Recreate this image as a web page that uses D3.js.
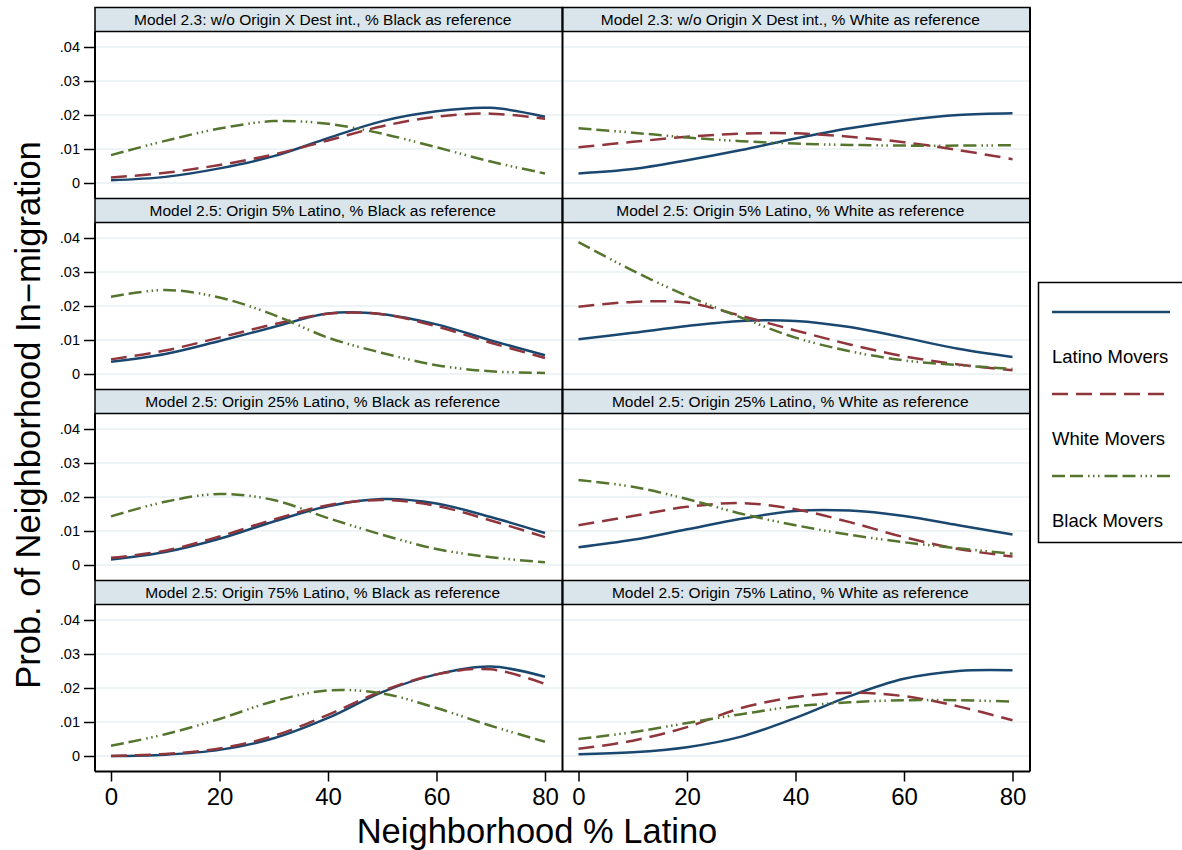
<!DOCTYPE html>
<html>
<head>
<meta charset="utf-8">
<script src="https://cdn.jsdelivr.net/npm/d3@7"></script>
<style>
  body { margin: 0; background: #fff; }
  svg { display: block; font-family: "Liberation Sans", Arial, Helvetica, sans-serif; }
</style>
</head>
<body>
<svg id="chart" width="1182" height="850"></svg>
<script>
// x grid (Neighborhood % Latino)
const xValues = [0, 10, 20, 30, 40, 50, 60, 70, 80];
const yTicks = [0, 0.01, 0.02, 0.03, 0.04];
const yTickLabels = ['0', '.01', '.02', '.03', '.04'];
const xTicks = [0, 20, 40, 60, 80];

// panels are row by row, left (Black ref) then right (White ref)
const panelTitles = [
    'Model 2.3: w/o Origin X Dest int., % Black as reference',
    'Model 2.3: w/o Origin X Dest int., % White as reference',
    'Model 2.5: Origin 5% Latino, % Black as reference',
    'Model 2.5: Origin 5% Latino, % White as reference',
    'Model 2.5: Origin 25% Latino, % Black as reference',
    'Model 2.5: Origin 25% Latino, % White as reference',
    'Model 2.5: Origin 75% Latino, % Black as reference',
    'Model 2.5: Origin 75% Latino, % White as reference'
];

const latinoMovers = [
    [0.0008, 0.0018, 0.0043, 0.0079, 0.0132, 0.0182, 0.0211, 0.0221, 0.0195],
    [0.0028, 0.0041, 0.0067, 0.0097, 0.0131, 0.0161, 0.0184, 0.0200, 0.0205],
    [0.0036, 0.0059, 0.0097, 0.0138, 0.0178, 0.0176, 0.0146, 0.0099, 0.0055],
    [0.0102, 0.0121, 0.0141, 0.0156, 0.0156, 0.0138, 0.0107, 0.0074, 0.0050],
    [0.0016, 0.0038, 0.0077, 0.0128, 0.0173, 0.0194, 0.0181, 0.0141, 0.0094],
    [0.0052, 0.0074, 0.0105, 0.0136, 0.0159, 0.0160, 0.0144, 0.0117, 0.0090],
    [0.0000, 0.0004, 0.0018, 0.0052, 0.0112, 0.0188, 0.0240, 0.0263, 0.0233],
    [0.0005, 0.0011, 0.0026, 0.0057, 0.0112, 0.0176, 0.0227, 0.0250, 0.0252]
];

const whiteMovers = [
    [0.0016, 0.0030, 0.0053, 0.0084, 0.0125, 0.0167, 0.0195, 0.0204, 0.0189],
    [0.0105, 0.0121, 0.0136, 0.0145, 0.0146, 0.0136, 0.0120, 0.0097, 0.0070],
    [0.0043, 0.0069, 0.0107, 0.0146, 0.0177, 0.0176, 0.0140, 0.0092, 0.0047],
    [0.0198, 0.0212, 0.0210, 0.0171, 0.0128, 0.0087, 0.0052, 0.0028, 0.0011],
    [0.0021, 0.0042, 0.0084, 0.0134, 0.0176, 0.0191, 0.0174, 0.0131, 0.0082],
    [0.0117, 0.0144, 0.0171, 0.0182, 0.0164, 0.0126, 0.0082, 0.0047, 0.0025],
    [0.0000, 0.0006, 0.0022, 0.0059, 0.0121, 0.0191, 0.0240, 0.0255, 0.0212],
    [0.0021, 0.0045, 0.0085, 0.0141, 0.0173, 0.0186, 0.0176, 0.0146, 0.0105]
];

const blackMovers = [
    [0.0082, 0.0124, 0.0160, 0.0182, 0.0174, 0.0145, 0.0105, 0.0063, 0.0028],
    [0.0161, 0.0148, 0.0134, 0.0123, 0.0116, 0.0112, 0.0110, 0.0110, 0.0111],
    [0.0227, 0.0247, 0.0225, 0.0174, 0.0107, 0.0062, 0.0026, 0.0008, 0.0003],
    [0.0388, 0.0304, 0.0230, 0.0166, 0.0107, 0.0067, 0.0040, 0.0026, 0.0015],
    [0.0143, 0.0186, 0.0209, 0.0191, 0.0138, 0.0089, 0.0047, 0.0023, 0.0008],
    [0.0250, 0.0230, 0.0194, 0.0151, 0.0117, 0.0089, 0.0067, 0.0049, 0.0033],
    [0.0030, 0.0064, 0.0109, 0.0161, 0.0193, 0.0184, 0.0141, 0.0089, 0.0042],
    [0.0050, 0.0070, 0.0097, 0.0123, 0.0146, 0.0158, 0.0164, 0.0164, 0.0160]
];

const seriesNames = ['Latino Movers', 'White Movers', 'Black Movers'];

(function() {
    'use strict';
    const svg = d3.select('#chart');

    const series = [
        { name: seriesNames[0], values: latinoMovers, color: '#1a476f', dash: null },
        { name: seriesNames[1], values: whiteMovers, color: '#90353b', dash: '16,8' },
        { name: seriesNames[2], values: blackMovers, color: '#55752f', dash: '13,5,13,5,1.5,3.5,1.5,3.5,1.5,5' }
    ];

    const gridLeft = 95, colWidth = 467.5;
    const gridTop = 7.5, rowHeight = 191, headerHeight = 24;
    const nRows = 4;

    const line = d3.line().curve(d3.curveCatmullRom.alpha(0.5));

    panelTitles.forEach((title, i) => {
        const row = Math.floor(i / 2), col = i % 2;
        const left = gridLeft + col * colWidth;
        const top = gridTop + row * rowHeight;
        const plotTop = top + headerHeight;
        const plotBottom = top + rowHeight;

        const x = d3.scaleLinear().domain([0, 80]).range([left + 16, left + 450]);
        const y = d3.scaleLinear().domain([0, 0.04]).range([plotTop + 151.5, plotTop + 15.5]);

        const g = svg.append('g');

        // header strip
        g.append('rect')
            .attr('x', left).attr('y', top)
            .attr('width', colWidth).attr('height', headerHeight)
            .attr('fill', '#d9e5eb')
            .attr('stroke', '#000').attr('stroke-width', 1.5);
        g.append('text')
            .attr('x', left + colWidth / 2 - 6)
            .attr('y', top + headerHeight / 2)
            .attr('dy', '0.36em')
            .attr('text-anchor', 'middle')
            .style('font-size', '15.5px')
            .text(title);

        // gridlines
        g.append('g').selectAll('line')
            .data(yTicks)
            .enter().append('line')
            .attr('x1', left).attr('x2', left + colWidth)
            .attr('y1', d => y(d)).attr('y2', d => y(d))
            .attr('stroke', '#e8f0f2').attr('stroke-width', 1.5);

        // curves
        series.forEach(s => {
            const pts = xValues.map((xv, k) => [x(xv), y(s.values[i][k])]);
            g.append('path')
                .attr('d', line(pts))
                .attr('fill', 'none')
                .attr('stroke', s.color)
                .attr('stroke-width', 2.5)
                .attr('stroke-dasharray', s.dash);
        });

        // y axis on the left column only
        if (col === 0) {
            const yAxis = d3.axisLeft(y).tickValues(yTicks)
                .tickFormat((d, k) => yTickLabels[k]).tickSize(11).tickPadding(4);
            const ax = g.append('g').attr('transform', `translate(${left},0)`).call(yAxis);
            ax.select('.domain').remove();
            ax.selectAll('.tick line').attr('stroke', '#000').attr('stroke-width', 1.5);
            ax.selectAll('.tick text').style('font-size', '14.5px').attr('fill', '#000')
                .style('font-family', '"Liberation Sans", Arial, sans-serif');
            g.append('line')
                .attr('x1', left).attr('x2', left)
                .attr('y1', plotTop).attr('y2', plotBottom)
                .attr('stroke', '#000').attr('stroke-width', 2);
        }

        // x axis on the bottom row
        if (row === nRows - 1) {
            const xAxis = d3.axisBottom(x).tickValues(xTicks).tickSize(10).tickPadding(6);
            const ax = g.append('g').attr('transform', `translate(0,${plotBottom})`).call(xAxis);
            ax.select('.domain').remove();
            ax.selectAll('.tick line').attr('stroke', '#000').attr('stroke-width', 1.5);
            ax.selectAll('.tick text').style('font-size', '24px').attr('fill', '#000')
                .style('font-family', '"Liberation Sans", Arial, sans-serif');
            g.append('line')
                .attr('x1', left).attr('x2', left + colWidth)
                .attr('y1', plotBottom).attr('y2', plotBottom)
                .attr('stroke', '#000').attr('stroke-width', 2);
        }
    });

    // column divider and right border
    const gridBottom = gridTop + nRows * rowHeight;
    [gridLeft + colWidth, gridLeft + 2 * colWidth].forEach(xx => {
        svg.append('line')
            .attr('x1', xx).attr('x2', xx)
            .attr('y1', gridTop).attr('y2', gridBottom)
            .attr('stroke', '#000').attr('stroke-width', 2);
    });

    // axis titles
    svg.append('text')
        .attr('x', 537)
        .attr('y', 843)
        .attr('text-anchor', 'middle')
        .style('font-size', '34.5px')
        .text('Neighborhood % Latino');
    svg.append('text')
        .attr('transform', 'translate(40,415) rotate(-90)')
        .attr('text-anchor', 'middle')
        .style('font-size', '34.5px')
        .text('Prob. of Neighborhood In\u2212migration');

    // legend
    const legend = svg.append('g');
    legend.append('rect')
        .attr('x', 1038.5).attr('y', 282.5)
        .attr('width', 160).attr('height', 260)
        .attr('fill', '#fff')
        .attr('stroke', '#000').attr('stroke-width', 1.5);
    series.forEach((s, k) => {
        const ly = 312 + k * 82;
        legend.append('line')
            .attr('x1', 1052).attr('x2', 1170)
            .attr('y1', ly).attr('y2', ly)
            .attr('stroke', s.color).attr('stroke-width', 2.5)
            .attr('stroke-dasharray', s.dash);
        legend.append('text')
            .attr('x', 1052).attr('y', ly + 51)
            .style('font-size', '18.5px')
            .text(s.name);
    });
})();
</script>
</body>
</html>
